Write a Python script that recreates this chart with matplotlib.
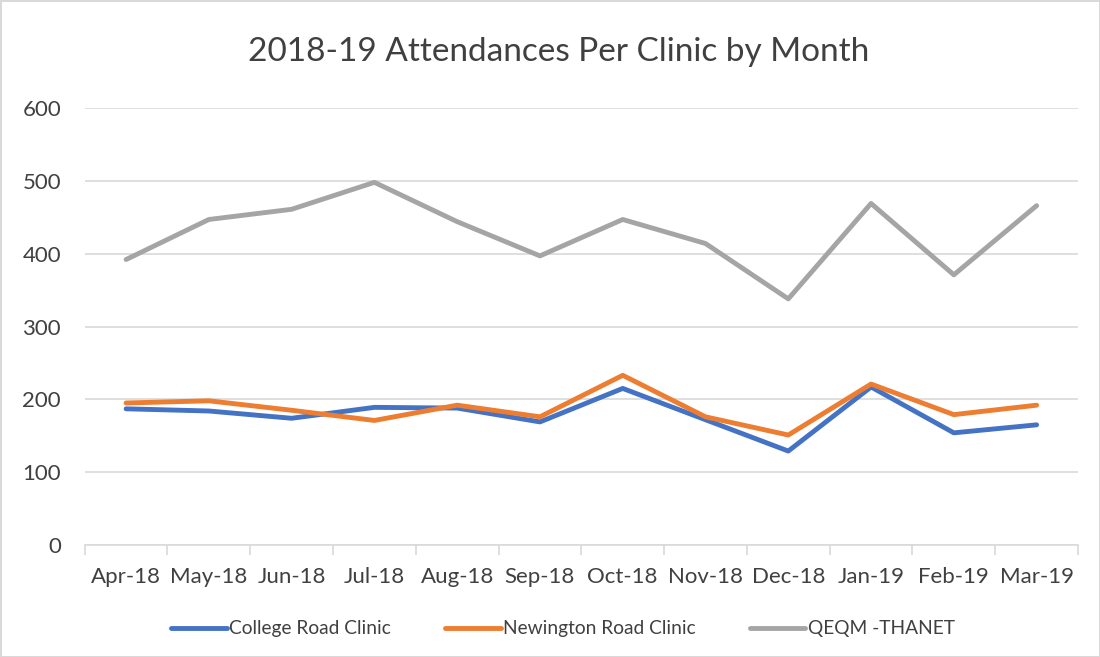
import numpy as np
import matplotlib.pyplot as plt

# =====================================================
# DATA
# =====================================================

months = ["Apr-18", "May-18", "Jun-18", "Jul-18", "Aug-18", "Sep-18",
          "Oct-18", "Nov-18", "Dec-18", "Jan-19", "Feb-19", "Mar-19"]

college_road = [187, 184, 174, 189, 188, 169, 215, 172, 129, 217, 154, 165]
newington_road = [195, 198, 185, 171, 192, 176, 233, 176, 151, 221, 179, 192]
qeqm_thanet = [392, 447, 461, 498, 444, 397, 447, 414, 338, 469, 371, 466]

series_names = ["College Road Clinic", "Newington Road Clinic", "QEQM -THANET"]
series_colors = ["#4472C4", "#ED7D31", "#A5A5A5"]

# =====================================================
# PLOT
# =====================================================

plt.rcParams["font.family"] = ["Lato", "DejaVu Sans"]

fig = plt.figure(figsize=(11, 6.57), dpi=100)
fig.patch.set_edgecolor("#d9d9d9")
fig.patch.set_linewidth(2)

ax = fig.add_axes([0.077, 0.1705, 0.903, 0.665])

x = np.arange(len(months))
for values, name, color in zip([college_road, newington_road, qeqm_thanet],
                               series_names, series_colors):
    ax.plot(x, values, color=color, linewidth=3.5, label=name,
            solid_capstyle="round", solid_joinstyle="round")

ax.set_xlim(-0.5, len(months) - 0.5)
ax.set_ylim(0, 600)
ax.set_yticks(range(0, 601, 100))
ax.set_xticks(x)
ax.set_xticklabels(months)
ax.set_xticks(np.arange(-0.5, len(months), 1), minor=True)

ax.grid(axis="y", color="#d9d9d9", linewidth=1.2)
ax.set_axisbelow(True)

for side in ["top", "right", "left"]:
    ax.spines[side].set_visible(False)
ax.spines["bottom"].set_color("#d9d9d9")
ax.spines["bottom"].set_linewidth(1.2)

ax.tick_params(axis="y", length=0, labelsize=16, labelcolor="#404040", pad=17)
ax.tick_params(axis="x", which="major", length=0, labelsize=16,
               labelcolor="#404040", pad=16)
ax.tick_params(axis="x", which="minor", length=7, color="#d9d9d9", width=1.2)

fig.text(0.508, 0.921, "2018-19 Attendances Per Clinic by Month",
         ha="center", va="center", fontsize=24, color="#404040")

fig.legend(loc="center", bbox_to_anchor=(0.512, 0.043), ncol=3,
           frameon=False, fontsize=13.8, labelcolor="#404040",
           handlelength=2.9, columnspacing=2.8, handletextpad=0.15)

plt.savefig("out.png", dpi=100, edgecolor=fig.get_edgecolor())
